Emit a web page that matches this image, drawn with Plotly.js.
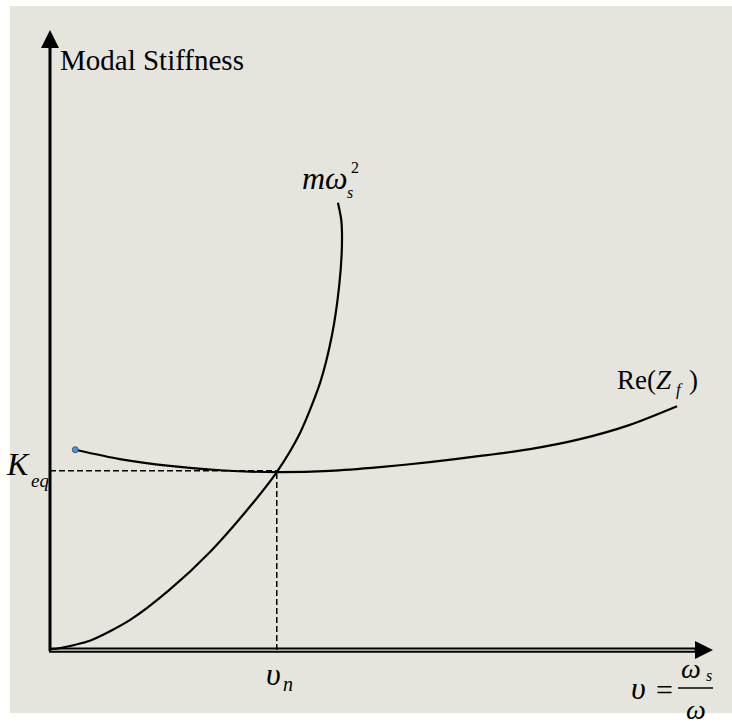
<!DOCTYPE html>
<html>
<head>
<meta charset="utf-8">
<script src="https://cdn.plot.ly/plotly-3.0.1.min.js"></script>
<style>
  html, body { margin: 0; padding: 0; background: #ffffff; }
  #chart { width: 732px; height: 723px; }
</style>
</head>
<body>
<div id="chart"></div>
<script>
// Modal stiffness curve m*omega_s^2 against the frequency ratio
const stiffX = [0, 0.60, 1.20, 1.80, 2.41, 3.01, 3.41, 3.76, 4.06, 4.24, 4.35, 4.39, 4.38, 4.33];
const stiffY = [0, 0.15, 0.48, 0.97, 1.58, 2.31, 2.86, 3.49, 4.29, 5.06, 5.87, 6.51, 6.91, 7.19];

// Real part of the foundation impedance Re(Z_f)
const reZX = [0.38, 1.05, 1.80, 2.56, 3.41, 4.21, 4.96, 5.71, 6.47, 7.22, 7.97, 8.72, 9.43];
const reZY = [3.22, 3.07, 2.96, 2.89, 2.86, 2.88, 2.94, 3.02, 3.12, 3.23, 3.39, 3.62, 3.92];

// Crossing point: equivalent stiffness and natural frequency ratio
const kEq = 2.88;
const upsilonN = 3.41;

// Plot frame: plotting area in pixels inside the 732 x 723 page
const L = 50, R = 715, T = 28, B = 650;
const W = R - L, H = B - T;
const px = v => (v - L) / W;        // page pixel -> paper x
const py = v => (B - v) / H;        // page pixel -> paper y

const serif = '"Liberation Serif", serif';
const ink = '#000000';
const bg = '#e5e5dd';

const traces = [
  {
    x: [0, upsilonN], y: [kEq, kEq], mode: 'lines',
    line: { color: ink, width: 1.5, dash: '6px,3px' }, hoverinfo: 'skip'
  },
  {
    x: [upsilonN, upsilonN], y: [0, kEq], mode: 'lines',
    line: { color: ink, width: 1.5, dash: '6px,3px' }, hoverinfo: 'skip'
  },
  {
    x: stiffX, y: stiffY, mode: 'lines',
    line: { color: ink, width: 2.2, shape: 'spline', smoothing: 0.7 }, hoverinfo: 'skip'
  },
  {
    x: reZX, y: reZY, mode: 'lines',
    line: { color: ink, width: 2.2, shape: 'spline', smoothing: 0.7 }, hoverinfo: 'skip'
  },
  {
    x: [reZX[0]], y: [reZY[0]], mode: 'markers',
    marker: { size: 6, color: '#4f95dc', line: { color: '#1f3f66', width: 0.8 } },
    hoverinfo: 'skip'
  }
];

const shapes = [
  // page background panel
  { type: 'rect', xref: 'paper', yref: 'paper', layer: 'below',
    x0: px(10), x1: px(732), y0: py(713), y1: py(6),
    fillcolor: bg, line: { width: 0 } },
  // vertical axis
  { type: 'line', xref: 'paper', yref: 'paper',
    x0: px(50), x1: px(50), y0: py(651), y1: py(40),
    line: { color: ink, width: 3 } },
  // horizontal axis drawn as a double rule
  { type: 'line', xref: 'paper', yref: 'paper',
    x0: px(49), x1: px(700), y0: py(648.5), y1: py(648.5),
    line: { color: ink, width: 2 } },
  { type: 'line', xref: 'paper', yref: 'paper',
    x0: px(49), x1: px(700), y0: py(651.8), y1: py(651.8),
    line: { color: ink, width: 2 } },
  // fraction bar of the abscissa label
  { type: 'line', xref: 'paper', yref: 'paper',
    x0: px(678), x1: px(713), y0: py(688), y1: py(688),
    line: { color: ink, width: 1.5 } }
];

function label(text, x, y, size, xanchor, italic) {
  return {
    text: text, xref: 'paper', yref: 'paper', x: px(x), y: py(y),
    xanchor: xanchor || 'center', yanchor: 'middle', showarrow: false,
    font: { family: serif, size: size, color: ink, style: italic ? 'italic' : 'normal' }
  };
}

const annotations = [
  // arrow heads on the axes
  { xref: 'paper', yref: 'paper', x: px(50), y: py(30), ax: 0, ay: 20,
    showarrow: true, arrowhead: 2, arrowsize: 1.2, arrowwidth: 3, arrowcolor: ink, text: '' },
  { xref: 'paper', yref: 'paper', x: px(713), y: py(650), ax: -20, ay: 0,
    showarrow: true, arrowhead: 2, arrowsize: 1.2, arrowwidth: 3, arrowcolor: ink, text: '' },

  label('Modal Stiffness', 58, 60, 29, 'left', false),

  label('mω', 325, 178, 32, 'center', true),
  label('2', 355, 167, 16, 'center', false),
  label('s', 350, 192, 16, 'center', true),

  label('Re(', 636, 380, 27, 'center', false),
  label('Z', 664, 380, 27, 'center', true),
  label('f', 679, 389, 17, 'center', true),
  label(')', 693, 380, 27, 'center', false),

  label('K', 18, 464, 32, 'center', true),
  label('eq', 40, 480, 19, 'center', true),

  label('υ', 273, 674, 32, 'center', true),
  label('n', 288, 684, 20, 'center', true),

  label('υ', 638, 688, 32, 'center', true),
  label('=', 664, 689, 30, 'center', false),
  label('ω', 691, 668, 28, 'center', true),
  label('s', 709, 675, 16, 'center', true),
  label('ω', 696, 709, 28, 'center', true)
];

const layout = {
  width: 732, height: 723,
  margin: { l: L, r: 732 - R, t: T, b: 723 - B, pad: 0 },
  paper_bgcolor: '#ffffff', plot_bgcolor: 'rgba(0,0,0,0)',
  showlegend: false,
  xaxis: { range: [0, 10], visible: false, fixedrange: true },
  yaxis: { range: [0, 10], visible: false, fixedrange: true },
  shapes: shapes,
  annotations: annotations
};

Plotly.newPlot('chart', traces, layout, { displayModeBar: false, staticPlot: true });
</script>
</body>
</html>
